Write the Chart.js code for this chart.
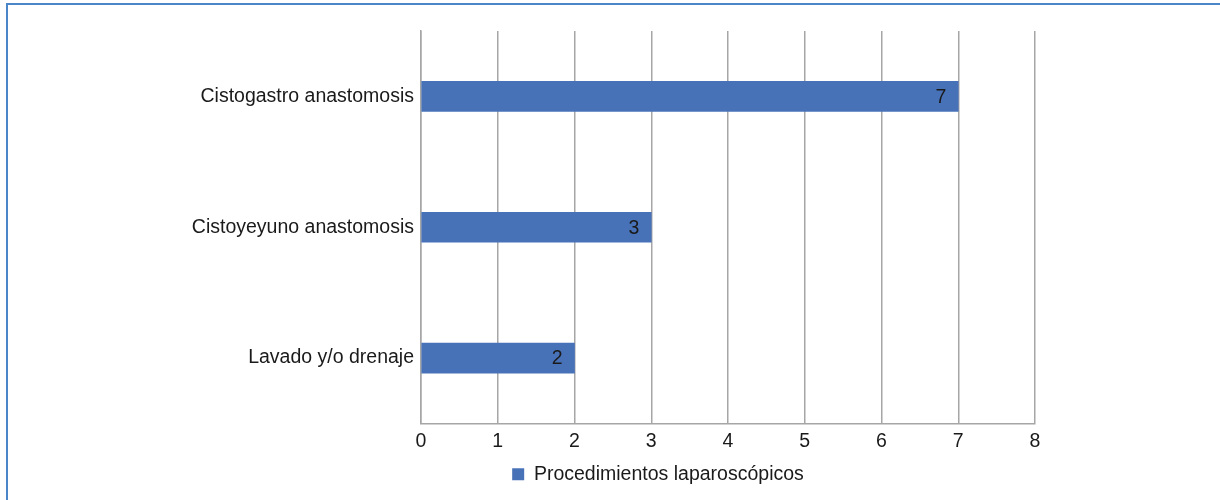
<!DOCTYPE html>
<html>
<head>
<meta charset="utf-8">
<script src="https://cdn.jsdelivr.net/npm/chart.js@4.4.1/dist/chart.umd.min.js"></script>
<style>
  html, body { margin: 0; padding: 0; background: #ffffff; }
  #wrap { position: relative; width: 1220px; height: 500px; overflow: hidden; }
  #frame { position: absolute; left: 6px; top: 3px; width: 1220px; height: 520px;
           border-left: 2px solid #4a86c8; border-top: 2px solid #4a86c8; box-sizing: border-box; }
  canvas { position: absolute; left: 0; top: 0; }
</style>
</head>
<body>
<div id="wrap">
  <div id="frame"></div>
  <canvas id="chart" width="1220" height="500"></canvas>
</div>
<script>
// Procedures and their counts
const categories = ['Cistogastro anastomosis', 'Cistoyeyuno anastomosis', 'Lavado y/o drenaje'];
const counts = [7, 3, 2];
const seriesName = 'Procedimientos laparoscópicos';
const xTicks = [0, 1, 2, 3, 4, 5, 6, 7, 8];

const FONT = { family: '"Liberation Sans", Arial, sans-serif', size: 19.5 };
const BAR_COLOR = '#4872b8';
const GRID_COLOR = '#a6a6a6';
const TEXT_COLOR = '#1a1a1a';

// Writes each value inside the end of its bar
const valueLabels = {
  id: 'valueLabels',
  afterDatasetsDraw(chart) {
    const ctx = chart.ctx;
    const meta = chart.getDatasetMeta(0);
    ctx.save();
    ctx.font = FONT.size + 'px ' + FONT.family;
    ctx.fillStyle = TEXT_COLOR;
    ctx.textAlign = 'right';
    ctx.textBaseline = 'middle';
    meta.data.forEach((bar, i) => {
      ctx.fillText(String(chart.data.datasets[0].data[i]), bar.x - 12, bar.y + 1);
    });
    ctx.restore();
  }
};

// Centres the legend on the band that starts at x = 281 and ends at the plot's right edge
const legendBand = {
  id: 'legendBand',
  afterLayout(chart) {
    const lg = chart.legend;
    if (!lg) return;
    lg.left = 281;
    lg.right = chart.chartArea.right;
    lg.width = lg.right - lg.left;
  }
};

new Chart(document.getElementById('chart'), {
  type: 'bar',
  data: {
    labels: categories,
    datasets: [{
      label: seriesName,
      data: counts,
      backgroundColor: BAR_COLOR,
      borderWidth: 0,
      barThickness: 30
    }]
  },
  options: {
    indexAxis: 'y',
    responsive: false,
    animation: false,
    layout: { padding: { top: 31, right: 185, bottom: 6, left: 0 } },
    plugins: {
      legend: {
        position: 'bottom',
        labels: {
          font: FONT,
          color: TEXT_COLOR,
          boxWidth: 12,
          boxHeight: 12,
          padding: 10
        }
      },
      tooltip: { enabled: false }
    },
    scales: {
      x: {
        min: 0,
        max: 8,
        afterBuildTicks(scale) { scale.ticks = xTicks.map(v => ({ value: v })); },
        afterFit(scale) { scale.height = 31; },
        grid: { color: GRID_COLOR, lineWidth: 1.5, drawTicks: false },
        border: { color: GRID_COLOR, width: 1.5 },
        ticks: { font: FONT, color: TEXT_COLOR, padding: 6, maxRotation: 0 }
      },
      y: {
        afterFit(scale) { scale.width = 421; },
        grid: { display: false, drawTicks: false },
        border: { color: GRID_COLOR, width: 1.5 },
        ticks: { font: FONT, color: TEXT_COLOR, padding: 7 }
      }
    }
  },
  plugins: [valueLabels, legendBand]
});
</script>
</body>
</html>
